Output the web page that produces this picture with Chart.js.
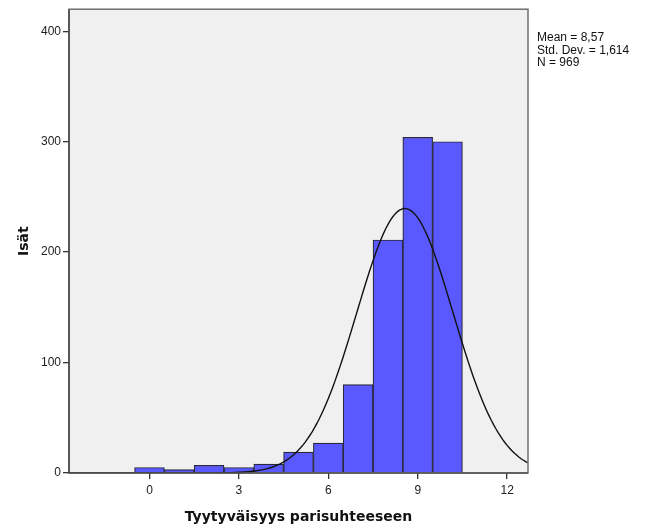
<!DOCTYPE html>
<html>
<head>
<meta charset="utf-8">
<script src="https://cdn.jsdelivr.net/npm/chart.js@4.4.0/dist/chart.umd.min.js"></script>
<style>
  html, body { margin: 0; padding: 0; background: #fff; }
  #histCanvas { display: block; }
</style>
</head>
<body>
<canvas id="histCanvas" width="646" height="528"></canvas>
<script>
// Histogram bins (score values) and counts of fathers
const binCenters = [0, 1, 2, 3, 4, 5, 6, 7, 8, 9, 10];
const binCounts = [5, 3, 7, 5, 8, 19, 27, 80, 211, 304, 300];
const xTicks = [0, 3, 6, 9, 12];
const yTicks = [0, 100, 200, 300, 400];

// Summary statistics shown next to the chart
const statMean = 8.57;
const statSd = 1.614;
const statN = 969;
const statLines = ['Mean = 8,57', 'Std. Dev. = 1,614', 'N = 969'];

const xMin = -2.7, xMax = 12.7;
const yMax = 420;

// Normal curve scaled to counts (bin width 1)
function normalCurve() {
    const pts = [];
    const steps = 200;
    for (let i = 0; i <= steps; i++) {
        const x = xMin + (xMax - xMin) * i / steps;
        const z = (x - statMean) / statSd;
        const y = statN / (statSd * Math.sqrt(2 * Math.PI)) * Math.exp(-0.5 * z * z);
        pts.push({ x: x, y: y });
    }
    return pts;
}

// Grey plot background and the frame around it
const plotFrame = {
    id: 'plotFrame',
    beforeDraw(chart) {
        const a = chart.chartArea;
        const ctx = chart.ctx;
        ctx.save();
        ctx.fillStyle = '#f0f0f0';
        ctx.fillRect(a.left, a.top, a.right - a.left, a.bottom - a.top);
        ctx.restore();
    },
    afterDraw(chart) {
        const a = chart.chartArea;
        const ctx = chart.ctx;
        ctx.save();
        ctx.strokeStyle = '#707070';
        ctx.lineWidth = 1.5;
        ctx.strokeRect(a.left, a.top, a.right - a.left, a.bottom - a.top);
        ctx.strokeStyle = '#333';
        ctx.lineWidth = 1.2;
        ctx.beginPath();
        ctx.moveTo(a.left, a.top);
        ctx.lineTo(a.left, a.bottom);
        ctx.lineTo(a.right, a.bottom);
        ctx.stroke();

        ctx.fillStyle = '#111';
        ctx.font = '12px "Liberation Sans", Arial, sans-serif';
        ctx.textAlign = 'left';
        ctx.textBaseline = 'middle';
        statLines.forEach(function(line, i) {
            ctx.fillText(line, a.right + 9, 38 + i * 12.5);
        });
        ctx.restore();
    }
};

const ctx = document.getElementById('histCanvas').getContext('2d');
new Chart(ctx, {
    type: 'bar',
    data: {
        datasets: [{
            type: 'line',
            data: normalCurve(),
            borderColor: '#111',
            borderWidth: 1.4,
            pointRadius: 0,
            fill: false,
            tension: 0,
            order: 0
        }, {
            type: 'bar',
            data: binCenters.map((x, i) => ({ x: x, y: binCounts[i] })),
            backgroundColor: '#5959ff',
            borderColor: '#2a2a3a',
            borderWidth: 1.2,
            barPercentage: 1.0,
            categoryPercentage: 1.0,
            order: 1
        }]
    },
    options: {
        responsive: false,
        animation: false,
        layout: { padding: { left: 0, right: 118, top: 8, bottom: 0 } },
        plugins: {
            legend: { display: false },
            tooltip: { enabled: false }
        },
        scales: {
            x: {
                type: 'linear',
                min: xMin,
                max: xMax,
                offset: false,
                afterBuildTicks(scale) {
                    scale.ticks = xTicks.map(v => ({ value: v }));
                },
                afterFit(scale) { scale.height = 55; },
                grid: {
                    offset: false,
                    drawOnChartArea: false,
                    drawTicks: true,
                    tickLength: 6,
                    lineWidth: 1.3,
                    color: '#333'
                },
                border: { display: false },
                ticks: {
                    color: '#222',
                    font: { size: 12, family: '"Liberation Sans", Arial, sans-serif' },
                    padding: 4,
                    maxRotation: 0
                },
                title: {
                    display: true,
                    text: 'Tyytyväisyys parisuhteeseen',
                    color: '#111',
                    font: { size: 14, weight: 'bold', family: '"DejaVu Sans", Verdana, sans-serif' },
                    padding: { top: 0, bottom: 2 }
                }
            },
            y: {
                min: 0,
                max: yMax,
                afterBuildTicks(scale) {
                    scale.ticks = yTicks.map(v => ({ value: v }));
                },
                afterFit(scale) { scale.width = 69; },
                grid: {
                    drawOnChartArea: false,
                    drawTicks: true,
                    tickLength: 6,
                    lineWidth: 1.3,
                    color: '#333'
                },
                border: { display: false },
                ticks: {
                    color: '#222',
                    font: { size: 12, family: '"Liberation Sans", Arial, sans-serif' },
                    padding: 2
                },
                title: {
                    display: true,
                    text: 'Isät',
                    color: '#111',
                    font: { size: 14, weight: 'bold', family: '"DejaVu Sans", Verdana, sans-serif' },
                    padding: { top: 16, bottom: 0 }
                }
            }
        }
    },
    plugins: [plotFrame]
});
</script>
</body>
</html>
